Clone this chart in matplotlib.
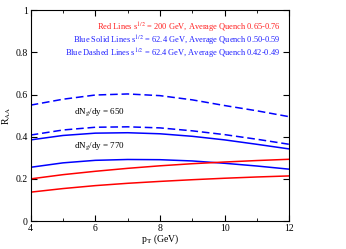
import matplotlib
matplotlib.use("Agg")
import matplotlib.pyplot as plt
import matplotlib.ticker as ticker

plt.rcParams["font.family"] = ["Liberation Serif", "DejaVu Serif"]
plt.rcParams["mathtext.fontset"] = "stix"

pt = [4, 5, 6, 7, 8, 9, 10, 11, 12]

blue_dash_650 = [0.550, 0.578, 0.598, 0.603, 0.595, 0.575, 0.548, 0.523, 0.495]
blue_dash_770 = [0.408, 0.432, 0.445, 0.447, 0.442, 0.428, 0.410, 0.388, 0.364]
blue_solid_650 = [0.385, 0.406, 0.417, 0.419, 0.414, 0.402, 0.385, 0.364, 0.342]
blue_solid_770 = [0.255, 0.276, 0.288, 0.292, 0.291, 0.285, 0.274, 0.261, 0.246]
red_650 = [0.200, 0.220, 0.236, 0.250, 0.262, 0.272, 0.280, 0.287, 0.293]
red_770 = [0.137, 0.154, 0.168, 0.179, 0.188, 0.196, 0.203, 0.209, 0.214]

legend_lines = [
    (r"Red Lines s$^{1/2}$ = 200 GeV, Average Quench 0.65-0.76", "#ff2020"),
    (r"Blue Solid Lines s$^{1/2}$ = 62.4 GeV, Average Quench 0.50-0.59", "#2020ff"),
    (r"Blue Dashed Lines s$^{1/2}$ = 62.4 GeV, Average Quench 0.42-0.49", "#2020ff"),
]

red = "#ff0000"
blue = "#0000ff"

fig = plt.figure(figsize=(3.46, 2.49), dpi=100)
ax = fig.add_axes([0.0887, 0.1124, 0.7474, 0.8462])

ax.plot(pt, blue_dash_650, color=blue, lw=1.1, dashes=(5, 2.5))
ax.plot(pt, blue_dash_770, color=blue, lw=1.1, dashes=(5, 2.5))
ax.plot(pt, blue_solid_650, color=blue, lw=1.1)
ax.plot(pt, blue_solid_770, color=blue, lw=1.1)
ax.plot(pt, red_650, color=red, lw=1.1)
ax.plot(pt, red_770, color=red, lw=1.1)

ax.set_xlim(4, 12)
ax.set_ylim(0, 1)
ax.xaxis.set_major_locator(ticker.MultipleLocator(2))
ax.xaxis.set_minor_locator(ticker.MultipleLocator(1))
ax.yaxis.set_major_locator(ticker.MultipleLocator(0.2))
ax.yaxis.set_major_formatter(ticker.FuncFormatter(lambda v, p: "%g" % round(v, 1)))
ax.tick_params(which="both", direction="in", top=True, right=True, labelsize=7, pad=2)
ax.tick_params(which="major", length=4)
ax.tick_params(which="minor", length=2)

ax.set_xlabel(r"p$_\mathrm{T}$ (GeV)", fontsize=7, labelpad=0)
ax.set_ylabel(r"R$_\mathrm{AA}$", fontsize=7, labelpad=2)

for i, (txt, c) in enumerate(legend_lines):
    ax.text(0.965, 0.915 - i * 0.062, txt, color=c, fontsize=6.0,
            ha="right", va="center", transform=ax.transAxes)

ax.text(5.34, 0.519, r"dN$_\mathrm{g}$/dy = 650", fontsize=6.5, va="center")
ax.text(5.34, 0.357, r"dN$_\mathrm{g}$/dy = 770", fontsize=6.5, va="center")

fig.savefig("out.png", dpi=100)
